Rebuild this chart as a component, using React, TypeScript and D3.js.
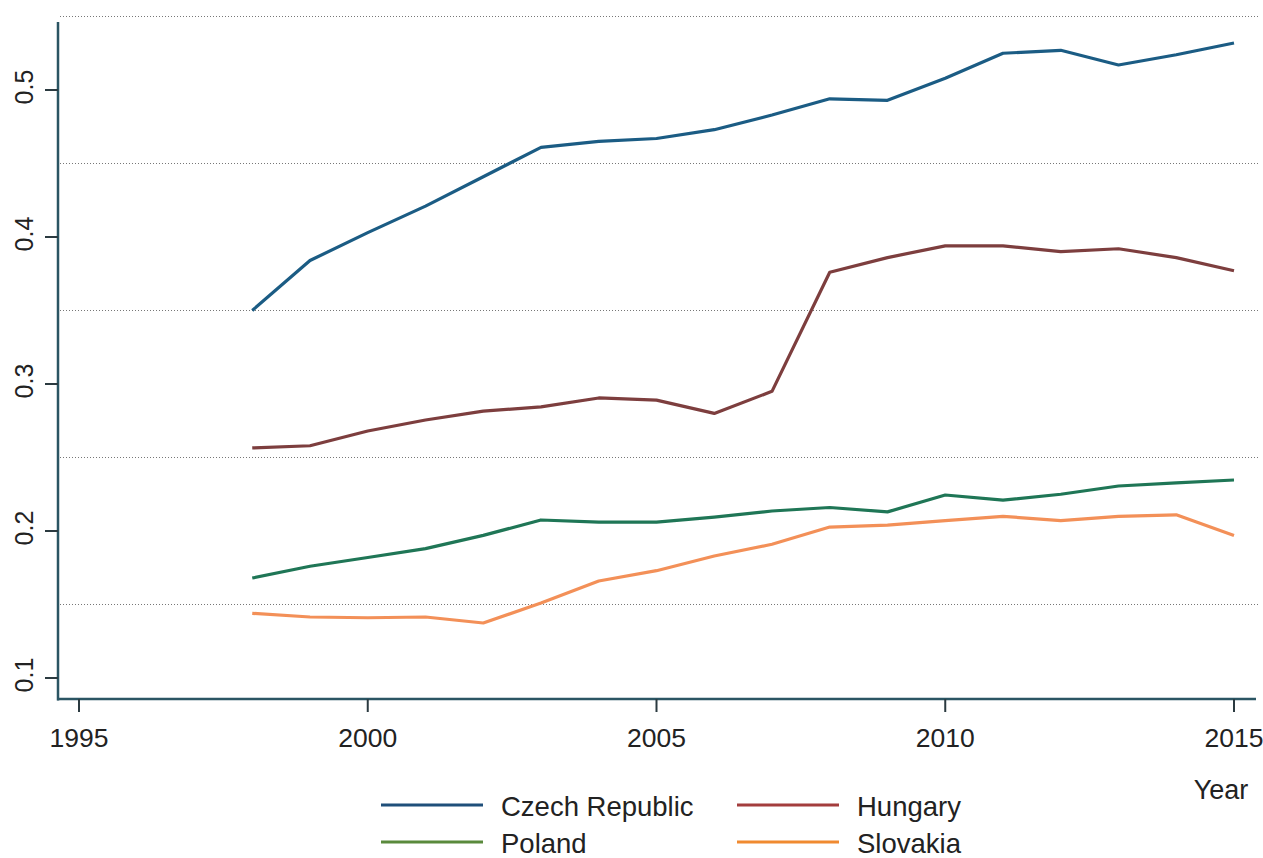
import React from "react";
import * as d3 from "d3";

const years = [1998,1999,2000,2001,2002,2003,2004,2005,2006,2007,2008,2009,2010,2011,2012,2013,2014,2015];
const czech = [0.350,0.384,0.403,0.421,0.441,0.461,0.465,0.467,0.473,0.483,0.494,0.493,0.508,0.525,0.527,0.517,0.524,0.532];
const hungary = [0.2565,0.258,0.268,0.2755,0.2816,0.2844,0.2905,0.289,0.280,0.295,0.376,0.386,0.394,0.394,0.390,0.392,0.386,0.377];
const poland = [0.168,0.176,0.182,0.188,0.197,0.2075,0.206,0.206,0.2095,0.2136,0.216,0.213,0.2245,0.221,0.225,0.2306,0.2327,0.2347];
const slovakia = [0.144,0.1415,0.141,0.1415,0.1374,0.151,0.166,0.173,0.183,0.191,0.2027,0.204,0.207,0.210,0.207,0.210,0.211,0.197];

const yTicks = [0.1,0.2,0.3,0.4,0.5];
const gridValues = [0.15,0.25,0.35,0.45,0.55];
const xTicks = [1995,2000,2005,2010,2015];

const series = [
  { name: "Czech Republic", values: czech, color: "#1b5c84", legend: "#1f4f7a" },
  { name: "Hungary", values: hungary, color: "#7d3e3e", legend: "#a33d3d" },
  { name: "Poland", values: poland, color: "#1f7656", legend: "#5a8a3c" },
  { name: "Slovakia", values: slovakia, color: "#f39058", legend: "#f08a30" },
];

const FONT = "'Liberation Sans', Arial, sans-serif";

export default function App() {
  const W = 1263, H = 858;
  const x = d3.scaleLinear().domain([1995, 2015]).range([79, 1234]);
  const y = d3.scaleLinear().domain([0.1, 0.5]).range([678, 90]);
  const axisX = 58, axisY = 699, axisTop = 22, axisRight = 1256;
  const line = d3.line<number>().x((_, i) => x(years[i])).y(v => y(v));

  const legendItems = [
    { s: series[0], lx: 381, ly: 805 },
    { s: series[1], lx: 737, ly: 805 },
    { s: series[2], lx: 381, ly: 842 },
    { s: series[3], lx: 737, ly: 842 },
  ];

  return (
    <svg width={W} height={H} style={{ position: "absolute", left: 0, top: 0, background: "#fff" }} fontFamily={FONT}>
      <rect x={0} y={0} width={W} height={H} fill="#fff" />
      {gridValues.map(g => (
        <line key={g} x1={axisX + 2} x2={1258} y1={y(g)} y2={y(g)} stroke="#777" strokeWidth={1} strokeDasharray="1,2" />
      ))}
      {series.map(s => (
        <path key={s.name} d={line(s.values) || ""} fill="none" stroke={s.color} strokeWidth={3.2} strokeLinejoin="round" />
      ))}
      <line x1={axisX} x2={axisX} y1={axisTop} y2={axisY + 1.5} stroke="#2b5563" strokeWidth={2.5} />
      <line x1={axisX - 1} x2={axisRight} y1={axisY} y2={axisY} stroke="#2b5563" strokeWidth={2.5} />
      {yTicks.map(t => (
        <g key={t}>
          <line x1={axisX - 13} x2={axisX} y1={y(t)} y2={y(t)} stroke="#2b3a40" strokeWidth={2} />
          <text transform={`translate(33,${y(t) - 3}) rotate(-90)`} textAnchor="middle" fontSize={25} fill="#222">{t.toFixed(1)}</text>
        </g>
      ))}
      {xTicks.map(t => (
        <g key={t}>
          <line x1={x(t)} x2={x(t)} y1={axisY} y2={axisY + 13} stroke="#2b3a40" strokeWidth={2} />
          <text x={x(t)} y={747} textAnchor="middle" fontSize={26.5} fill="#222">{t}</text>
        </g>
      ))}
      <text x={1221} y={799} textAnchor="middle" fontSize={27} fill="#222">Year</text>
      {legendItems.map(({ s, lx, ly }) => (
        <g key={s.name}>
          <line x1={lx} x2={lx + 102} y1={ly} y2={ly} stroke={s.legend} strokeWidth={3} />
          <text x={lx + 120} y={ly + 11} fontSize={27.5} fill="#222">{s.name}</text>
        </g>
      ))}
    </svg>
  );
}
